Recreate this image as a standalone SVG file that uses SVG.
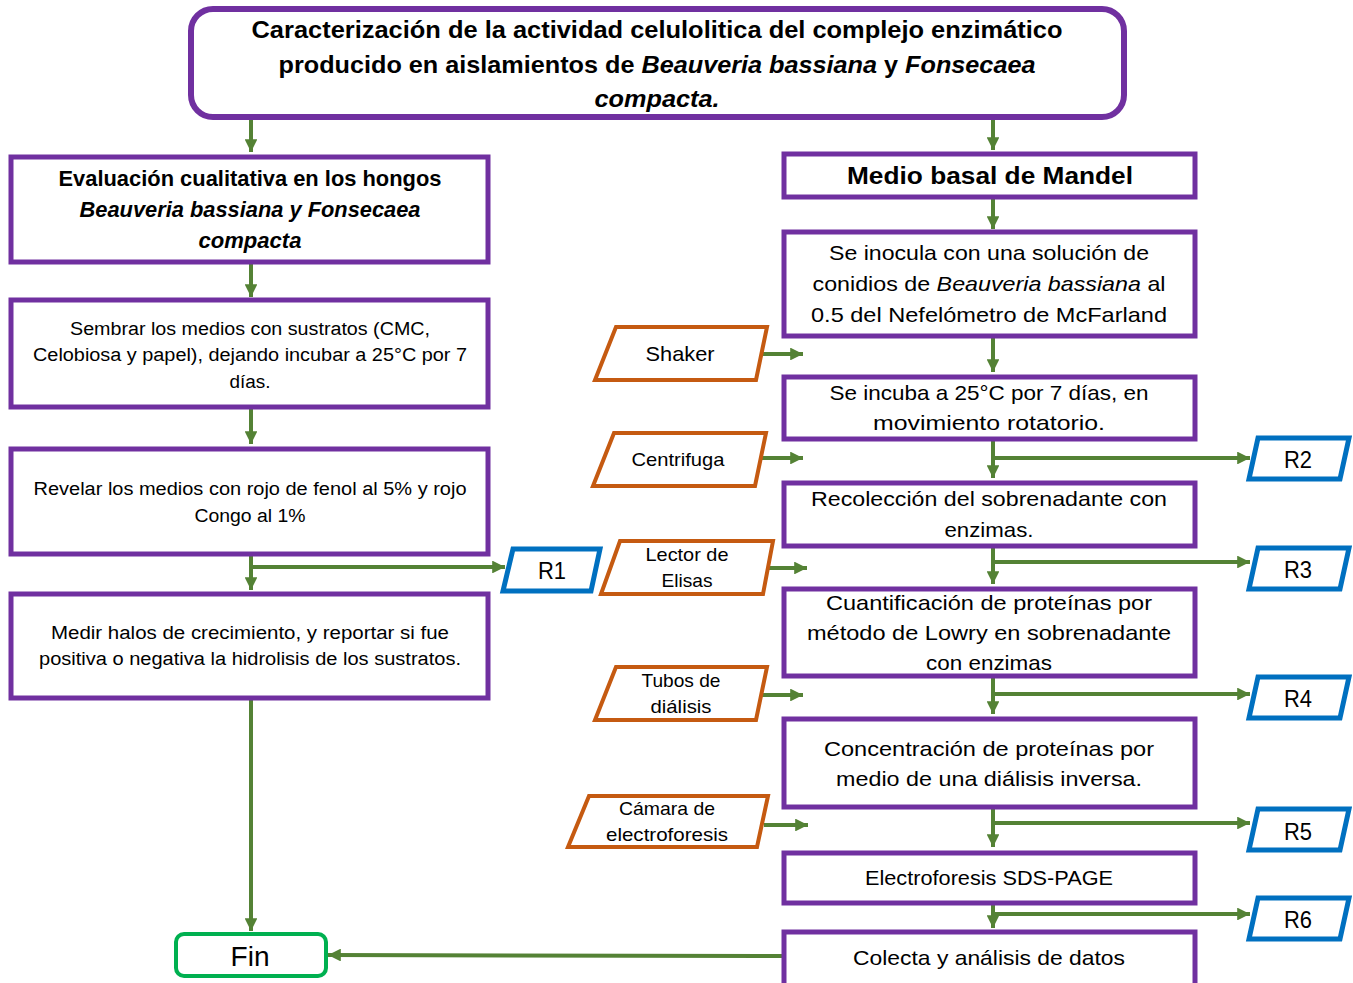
<svg xmlns="http://www.w3.org/2000/svg" width="1353" height="983" viewBox="0 0 1353 983">
<style>
.box{fill:#fff;stroke:#7030A0;stroke-width:5}
.in{fill:#fff;stroke:#C55A11;stroke-width:4}
.res{fill:#fff;stroke:#0070C0;stroke-width:5}
.fin{fill:#fff;stroke:#00B050;stroke-width:4}
.c{fill:none;stroke:#548235;stroke-width:4}
text{font-family:"Liberation Sans",Arial,sans-serif;fill:#000;text-anchor:middle}
.t{font-size:24px;font-weight:bold}
.b{font-size:18px}
.r{font-size:21px}
.s{font-size:19px}
.i{font-style:italic}
</style>
<defs>
<marker id="ah" viewBox="0 0 10 10" refX="10" refY="5" markerWidth="3.2" markerHeight="3.2" orient="auto" markerUnits="strokeWidth">
<path d="M0,0 L10,5 L0,10 z" fill="#548235"/>
</marker>
</defs>

<g id="connectors">
<line class="c" x1="251" y1="118" x2="251" y2="152" marker-end="url(#ah)"/>
<line class="c" x1="993" y1="118" x2="993" y2="150" marker-end="url(#ah)"/>
<line class="c" x1="251" y1="263" x2="251" y2="297" marker-end="url(#ah)"/>
<line class="c" x1="251" y1="408" x2="251" y2="444" marker-end="url(#ah)"/>
<line class="c" x1="251" y1="555" x2="251" y2="590" marker-end="url(#ah)"/>
<line class="c" x1="251" y1="567" x2="505" y2="567" marker-end="url(#ah)"/>
<line class="c" x1="251" y1="698" x2="251" y2="931" marker-end="url(#ah)"/>
<line class="c" x1="783" y1="956" x2="328" y2="955" marker-end="url(#ah)"/>
<line class="c" x1="993" y1="197" x2="993" y2="229" marker-end="url(#ah)"/>
<line class="c" x1="993" y1="337" x2="993" y2="372" marker-end="url(#ah)"/>
<line class="c" x1="993" y1="440" x2="993" y2="478" marker-end="url(#ah)"/>
<line class="c" x1="993" y1="458" x2="1250" y2="458" marker-end="url(#ah)"/>
<line class="c" x1="993" y1="547" x2="993" y2="584" marker-end="url(#ah)"/>
<line class="c" x1="993" y1="562" x2="1250" y2="562" marker-end="url(#ah)"/>
<line class="c" x1="993" y1="677" x2="993" y2="714" marker-end="url(#ah)"/>
<line class="c" x1="993" y1="694" x2="1250" y2="694" marker-end="url(#ah)"/>
<line class="c" x1="993" y1="808" x2="993" y2="847" marker-end="url(#ah)"/>
<line class="c" x1="993" y1="823" x2="1250" y2="823" marker-end="url(#ah)"/>
<line class="c" x1="993" y1="904" x2="993" y2="928" marker-end="url(#ah)"/>
<line class="c" x1="993" y1="914" x2="1250" y2="914" marker-end="url(#ah)"/>
<line class="c" x1="762" y1="354" x2="803" y2="354" marker-end="url(#ah)"/>
<line class="c" x1="762" y1="458" x2="803" y2="458" marker-end="url(#ah)"/>
<line class="c" x1="768" y1="568" x2="807" y2="568" marker-end="url(#ah)"/>
<line class="c" x1="762" y1="695" x2="803" y2="695" marker-end="url(#ah)"/>
<line class="c" x1="764" y1="825" x2="808" y2="825" marker-end="url(#ah)"/>
</g>

<g id="title">
<rect x="191" y="9" width="933" height="108" rx="22" fill="#fff" stroke="#7030A0" stroke-width="6"/>
<text class="t" x="657" y="38" textLength="811" lengthAdjust="spacingAndGlyphs">Caracterización de la actividad celulolitica del complejo enzimático</text>
<text class="t" x="657" y="73" textLength="757" lengthAdjust="spacingAndGlyphs">producido en aislamientos de <tspan class="i">Beauveria  bassiana</tspan> y <tspan class="i">Fonsecaea</tspan></text>
<text class="t i" x="657" y="107" textLength="125" lengthAdjust="spacingAndGlyphs">compacta.</text>
</g>

<g id="evaluacion">
<rect class="box" x="11" y="157" width="477" height="105"/>
<text class="t" style="font-size:22px" x="250" y="186" textLength="383" lengthAdjust="spacingAndGlyphs">Evaluación cualitativa en los hongos</text>
<text class="t i" style="font-size:22px" x="250" y="217" textLength="341" lengthAdjust="spacingAndGlyphs">Beauveria  bassiana  y Fonsecaea</text>
<text class="t i" style="font-size:22px" x="250" y="248" textLength="103" lengthAdjust="spacingAndGlyphs">compacta</text>
</g>

<g id="sembrar">
<rect class="box" x="11" y="300" width="477" height="107"/>
<text class="b" x="250" y="335" textLength="360" lengthAdjust="spacingAndGlyphs">Sembrar los medios con sustratos (CMC,</text>
<text class="b" x="250" y="361" textLength="434" lengthAdjust="spacingAndGlyphs">Celobiosa y papel), dejando incubar a 25°C por 7</text>
<text class="b" x="250" y="388" textLength="41" lengthAdjust="spacingAndGlyphs">días.</text>
</g>

<g id="revelar">
<rect class="box" x="11" y="449" width="477" height="105"/>
<text class="b" x="250" y="495" textLength="433" lengthAdjust="spacingAndGlyphs">Revelar los medios con rojo de fenol al 5% y rojo</text>
<text class="b" x="250" y="522" textLength="111" lengthAdjust="spacingAndGlyphs">Congo al 1%</text>
</g>

<g id="medir">
<rect class="box" x="11" y="594" width="477" height="104"/>
<text class="b" x="250" y="639" textLength="398" lengthAdjust="spacingAndGlyphs">Medir halos de crecimiento, y reportar si fue</text>
<text class="b" x="250" y="665" textLength="422" lengthAdjust="spacingAndGlyphs">positiva o negativa la hidrolisis de los sustratos.</text>
</g>

<g id="fin">
<rect class="fin" x="176" y="934" width="150" height="42" rx="8"/>
<text x="250" y="966" style="font-size:27px" textLength="39" lengthAdjust="spacingAndGlyphs">Fin</text>
</g>

<g id="medio">
<rect class="box" x="784" y="154" width="411" height="43"/>
<text class="t" x="990" y="184" textLength="286" lengthAdjust="spacingAndGlyphs">Medio basal de Mandel</text>
</g>

<g id="inocula">
<rect class="box" x="784" y="232" width="411" height="104"/>
<text class="r" x="989" y="260" textLength="320" lengthAdjust="spacingAndGlyphs">Se inocula con una solución de</text>
<text class="r" x="989" y="291" textLength="353" lengthAdjust="spacingAndGlyphs">conidios de <tspan class="i">Beauveria bassiana</tspan> al</text>
<text class="r" x="989" y="322" textLength="356" lengthAdjust="spacingAndGlyphs">0.5 del Nefelómetro de McFarland</text>
</g>

<g id="incuba">
<rect class="box" x="784" y="377" width="411" height="62"/>
<text class="r" x="989" y="400" textLength="319" lengthAdjust="spacingAndGlyphs">Se incuba a 25°C por 7 días, en</text>
<text class="r" x="989" y="430" textLength="232" lengthAdjust="spacingAndGlyphs">movimiento rotatorio.</text>
</g>

<g id="recoleccion">
<rect class="box" x="784" y="483" width="411" height="63"/>
<text class="r" x="989" y="506" textLength="356" lengthAdjust="spacingAndGlyphs">Recolección del sobrenadante  con</text>
<text class="r" x="989" y="537" textLength="89" lengthAdjust="spacingAndGlyphs">enzimas.</text>
</g>

<g id="cuantificacion">
<rect class="box" x="784" y="589" width="411" height="87"/>
<text class="r" x="989" y="610" textLength="326" lengthAdjust="spacingAndGlyphs">Cuantificación de proteínas por</text>
<text class="r" x="989" y="640" textLength="364" lengthAdjust="spacingAndGlyphs">método de Lowry en sobrenadante</text>
<text class="r" x="989" y="670" textLength="126" lengthAdjust="spacingAndGlyphs">con enzimas</text>
</g>

<g id="concentracion">
<rect class="box" x="784" y="719" width="411" height="88"/>
<text class="r" x="989" y="756" textLength="330" lengthAdjust="spacingAndGlyphs">Concentración  de proteínas por</text>
<text class="r" x="989" y="786" textLength="306" lengthAdjust="spacingAndGlyphs">medio de una diálisis inversa.</text>
</g>

<g id="electroforesis">
<rect class="box" x="784" y="853" width="411" height="50"/>
<text class="r" x="989" y="885" textLength="248" lengthAdjust="spacingAndGlyphs">Electroforesis  SDS-PAGE</text>
</g>

<g id="colecta">
<rect class="box" x="784" y="932" width="411" height="60"/>
<text class="r" x="989" y="965" textLength="272" lengthAdjust="spacingAndGlyphs">Colecta y análisis de datos</text>
</g>

<g id="shaker">
<polygon class="in" points="616,327 767,327 756,380 595,380"/>
<text class="r" x="680" y="361" textLength="69" lengthAdjust="spacingAndGlyphs">Shaker</text>
</g>
<g id="centrifuga">
<polygon class="in" points="614,433 766,433 755,486 593,486"/>
<text class="s" x="678" y="466" textLength="93" lengthAdjust="spacingAndGlyphs">Centrifuga</text>
</g>
<g id="lector">
<polygon class="in" points="620,541 773,541 763,594 601,594"/>
<text class="s" x="687" y="561" textLength="83" lengthAdjust="spacingAndGlyphs">Lector de</text>
<text class="s" x="687" y="587" textLength="51" lengthAdjust="spacingAndGlyphs">Elisas</text>
</g>
<g id="tubos">
<polygon class="in" points="616,667 767,667 756,720 595,720"/>
<text class="s" x="681" y="687" textLength="79" lengthAdjust="spacingAndGlyphs">Tubos de</text>
<text class="s" x="681" y="713" textLength="61" lengthAdjust="spacingAndGlyphs">diálisis</text>
</g>
<g id="camara">
<polygon class="in" points="589,796 768,796 757,847 568,847"/>
<text class="s" x="667" y="815" textLength="96" lengthAdjust="spacingAndGlyphs">Cámara de</text>
<text class="s" x="667" y="841" textLength="122" lengthAdjust="spacingAndGlyphs">electroforesis</text>
</g>

<g id="r1">
<polygon class="res" points="513,549 600,549 591,591 503,591"/>
<text x="552" y="579" style="font-size:23px" textLength="28" lengthAdjust="spacingAndGlyphs">R1</text>
</g>
<g id="r2">
<polygon class="res" points="1258,438 1349,438 1340,479 1249,479"/>
<text x="1298" y="468" style="font-size:23px" textLength="28" lengthAdjust="spacingAndGlyphs">R2</text>
</g>
<g id="r3">
<polygon class="res" points="1258,548 1349,548 1340,589 1249,589"/>
<text x="1298" y="578" style="font-size:23px" textLength="28" lengthAdjust="spacingAndGlyphs">R3</text>
</g>
<g id="r4">
<polygon class="res" points="1258,677 1349,677 1340,718 1249,718"/>
<text x="1298" y="707" style="font-size:23px" textLength="28" lengthAdjust="spacingAndGlyphs">R4</text>
</g>
<g id="r5">
<polygon class="res" points="1258,809 1349,809 1340,850 1249,850"/>
<text x="1298" y="840" style="font-size:23px" textLength="28" lengthAdjust="spacingAndGlyphs">R5</text>
</g>
<g id="r6">
<polygon class="res" points="1258,898 1349,898 1340,939 1249,939"/>
<text x="1298" y="928" style="font-size:23px" textLength="28" lengthAdjust="spacingAndGlyphs">R6</text>
</g>
</svg>
